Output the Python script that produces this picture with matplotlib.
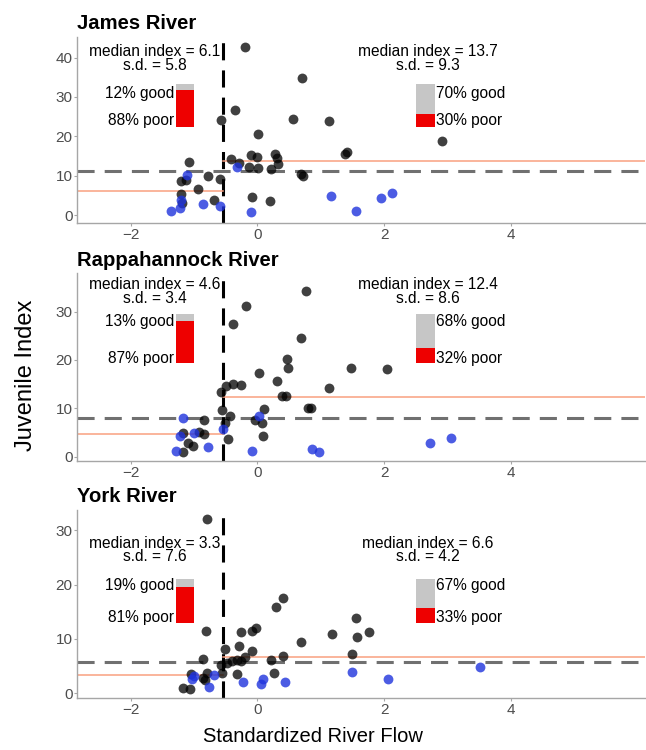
import matplotlib.pyplot as plt

plt.rcParams['font.family'] = ['Liberation Sans', 'DejaVu Sans']

# ---- data ----
rivers = ["James River", "Rappahannock River", "York River"]
flow_cutoff = -0.54
reference_index = [11.2, 8.1, 5.8]          # grey dashed line
median_low = [6.1, 4.6, 3.3]
median_high = [13.7, 12.4, 6.6]
sd_low = [5.8, 3.4, 7.6]
sd_high = [9.3, 8.6, 4.2]
good_low = [12, 13, 19]
good_high = [70, 68, 67]

james_x = [-0.2, 0.705, -0.347, -0.58, 0.568, 1.126, 0.016, 2.91, 1.41, 1.38,
           -1.074, -0.416, -0.284, -0.095, 0.0, 0.279, 0.316, 0.332, -0.137, 0.016,
           0.216, 0.69, 0.716, -0.774, -0.59, -1.2, -1.126, -0.93, -1.2, -0.684,
           -0.084, 0.2, -1.195]
james_y = [42.8, 34.8, 26.7, 24.2, 24.4, 23.8, 20.5, 18.9, 16.1, 15.5,
           13.6, 14.2, 13.3, 15.3, 14.7, 15.5, 14.4, 13.0, 12.3, 12.0,
           11.6, 10.4, 9.9, 10.0, 9.2, 8.6, 8.8, 6.7, 5.4, 3.8,
           4.5, 3.6, 3.1]
james_blue_x = [-1.105, -0.326, -1.368, -1.22, -1.2, -0.863, -0.59, -0.095,
                1.158, 1.558, 1.947, 2.13]
james_blue_y = [10.2, 12.3, 1.1, 1.9, 3.8, 2.8, 2.3, 0.8,
                4.8, 1.1, 4.4, 5.5]

rapp_x = [0.763, -0.184, -0.389, 0.695, 0.468, 0.479, 1.474, 2.04, 0.032, 1.126,
          0.305, -0.5, -0.379, -0.263, -0.574, 0.384, 0.453, 0.805, 0.842, -0.563,
          0.11, -0.43, -0.037, -0.842, -0.51, 0.068, -0.926, -0.837, -1.18, 0.084,
          -0.468, -1.09, -1.02, -1.18]
rapp_y = [34.3, 31.1, 27.5, 24.6, 20.1, 18.3, 18.3, 18.2, 17.4, 14.3,
          15.6, 14.7, 15.0, 14.8, 13.4, 12.6, 12.6, 10.0, 10.0, 9.7,
          9.8, 8.4, 7.6, 7.6, 7.0, 6.9, 5.2, 4.7, 4.8, 4.3,
          3.7, 2.8, 2.3, 1.0]
rapp_blue_x = [-1.18, 0.032, -1.0, -1.22, -0.547, -0.779, -1.29, -0.09,
               0.858, 0.979, 2.726, 3.05]
rapp_blue_y = [7.9, 8.4, 5.0, 4.3, 5.8, 2.1, 1.1, 1.2,
               1.5, 1.0, 2.8, 3.9]

york_x = [-0.79, 0.41, 0.295, 1.558, 1.768, 1.568, 1.179, -0.263, -0.81, -0.084,
          -0.021, 0.695, -0.284, -0.51, -0.089, 0.41, 1.5, -0.853, 0.21, -0.405,
          -0.326, -0.258, -0.195, -0.574, -0.484, -0.326, 0.268, -1.047, -0.79, -0.853,
          -0.83, -1.18, -1.063, -0.563]
york_y = [32.0, 17.5, 15.9, 13.8, 11.3, 10.4, 10.9, 11.3, 11.4, 11.5,
          12.0, 9.4, 8.7, 8.1, 7.7, 6.9, 7.3, 6.4, 6.1, 5.9,
          6.1, 6.0, 6.6, 5.2, 5.6, 3.5, 3.7, 3.6, 3.8, 2.8,
          2.4, 1.0, 0.8, 3.7]
york_blue_x = [-0.995, -1.037, -0.684, -0.758, -0.221, 0.058, 0.095, 0.442,
               1.495, 2.058, 3.52]
york_blue_y = [3.1, 2.6, 3.4, 1.2, 2.1, 1.7, 2.6, 2.0,
               4.0, 2.7, 4.9]

dark_x = [james_x, rapp_x, york_x]
dark_y = [james_y, rapp_y, york_y]
blue_x = [james_blue_x, rapp_blue_x, york_blue_x]
blue_y = [james_blue_y, rapp_blue_y, york_blue_y]

# ---- layout (per panel) ----
axes_rects = [[0.1197, 0.703, 0.879, 0.248],
              [0.1197, 0.3857, 0.879, 0.2499],
              [0.1197, 0.0689, 0.879, 0.2511]]
ylims = [(-1.95, 45.3), (-0.83, 37.9), (-0.92, 33.7)]
ytick_sets = [[0, 10, 20, 30, 40], [0, 10, 20, 30], [0, 10, 20, 30]]
text_y = [39.8, 34.15, 26.35]                           # centre of the 2-line block
bar_span = [(22.3, 10.9), (19.3, 10.1), (13.0, 8.1)]     # bottom, height
label_y = [(30.9, 24.0), (27.9, 20.3), (19.9, 13.9)]    # good, poor

XLIM = (-2.84, 6.12)
GREY_BAR = '#c6c6c6'
RED_BAR = '#ee0000'
ORANGE = '#f9a080'
SPINE = '#a6a6a6'
TICKC = '#4d4d4d'

fig = plt.figure(figsize=(6.46, 7.5), dpi=100)

for i, river in enumerate(rivers):
    ax = fig.add_axes(axes_rects[i])
    ax.set_xlim(*XLIM)
    ax.set_ylim(*ylims[i])

    # reference lines
    ax.axhline(reference_index[i], color='#707070', lw=2.2, dashes=(5.6, 3.3), zorder=2)
    ax.axvline(flow_cutoff, color='black', lw=2.2, dashes=(5.6, 3.3), zorder=2)
    ax.plot([XLIM[0], flow_cutoff], [median_low[i]] * 2, color=ORANGE, lw=1.1, zorder=2)
    ax.plot([flow_cutoff, XLIM[1]], [median_high[i]] * 2, color=ORANGE, lw=1.1, zorder=2)

    # points
    ax.scatter(dark_x[i], dark_y[i], s=50, color='black', alpha=0.75, lw=0, zorder=3)
    ax.scatter(blue_x[i], blue_y[i], s=50, color='#1f33dd', alpha=0.8, lw=0, zorder=3)

    # median / sd text
    for cx, med, sd in [(-1.62, median_low[i], sd_low[i]), (2.69, median_high[i], sd_high[i])]:
        ax.text(cx, text_y[i], f"median index = {med}\ns.d. = {sd}", ha='center', va='center',
                multialignment='center', linespacing=0.88, fontsize=11.2)

    # good / poor bars
    b0, h = bar_span[i]
    for bx, bw, good, left in [(-1.145, 0.29, good_low[i], True), (2.655, 0.30, good_high[i], False)]:
        poor = 100 - good
        ax.bar(bx, h, width=bw, bottom=b0, color=GREY_BAR, zorder=2)
        ax.bar(bx, h * poor / 100, width=bw, bottom=b0, color=RED_BAR, zorder=2)
        if left:
            tx, ha = bx - bw / 2 - 0.02, 'right'
        else:
            tx, ha = bx + bw / 2 + 0.02, 'left'
        ax.text(tx, label_y[i][0], f"{good}% good", ha=ha, va='center', fontsize=11.2)
        ax.text(tx, label_y[i][1], f"{poor}% poor", ha=ha, va='center', fontsize=11.2)

    ax.set_title(river, loc='left', fontsize=14.6, fontweight='bold', pad=5.5)
    ax.set_xticks([-2, 0, 2, 4])
    ax.set_yticks(ytick_sets[i])
    ax.tick_params(colors=SPINE, labelcolor=TICKC, labelsize=11, length=2, width=0.8, pad=1.5)
    for side in ['top', 'right']:
        ax.spines[side].set_visible(False)
    for side in ['left', 'bottom']:
        ax.spines[side].set_color(SPINE)
        ax.spines[side].set_linewidth(1.0)

fig.text(0.04, 0.5, "Juvenile Index", rotation=90, ha='center', va='center', fontsize=17)
fig.text(0.4837, 0.0177, "Standardized River Flow", ha='center', va='center', fontsize=14.5)

fig.savefig("out.png", dpi=100)
